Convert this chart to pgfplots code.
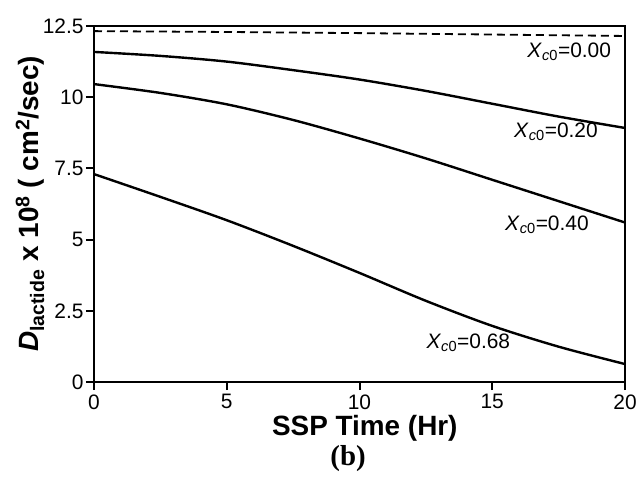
\documentclass[border=0pt]{standalone}
\usepackage{pgfplots}
\pgfplotsset{compat=1.18}
\usepackage{fontspec}
\setmainfont{Liberation Sans}
\newfontfamily\timesfont{Liberation Serif}
\begin{document}
\begin{tikzpicture}[x=1bp,y=1bp]
\begin{axis}[
  scale only axis,
  width=531bp, height=356bp,
  xmin=0, xmax=20, ymin=0, ymax=12.5,
  xtick={0,5,10,15,20},
  ytick={0,2.5,5,7.5,10,12.5},
  yticklabels={0,2.5,5,7.5,10,12.5},
  axis line style={line width=2.6bp},
  tick style={line width=2bp, black},
  tick align=outside,
  major tick length=8bp,
  xtick pos=bottom, ytick pos=left,
  /pgf/number format/assume math mode=true,
  tick label style={font=\fontsize{21}{23}\selectfont},
  yticklabel style={xshift=1bp},
  xticklabel style={yshift=-1bp},
  xlabel={\bfseries SSP Time (Hr)},
  ylabel={\bfseries\textit{D}\textsubscript{lactide} x 10\textsuperscript{8} ( cm\textsuperscript{2}/sec)},
  xlabel style={font=\fontsize{28}{30}\selectfont, at={(axis description cs:0.51,0)}, anchor=center, yshift=-46bp},
  ylabel style={font=\fontsize{28}{30}\selectfont, at={(axis description cs:-0.1205,0.5)}, anchor=center},
  clip=false,
]
\addplot[black, line width=1.8bp, dash pattern=on 8bp off 5bp] coordinates {(0,12.32) (5,12.29) (10,12.25) (15,12.2) (20,12.15)};
\addplot[black, line width=2.4bp, smooth] coordinates {(0,11.59) (2.5,11.45) (5,11.25) (7.5,10.95) (10,10.62) (12.5,10.22) (15,9.77) (17.5,9.32) (20,8.92)};
\addplot[black, line width=2.4bp, smooth] coordinates {(0,10.46) (2.5,10.15) (5,9.75) (7.5,9.2) (10,8.55) (12.5,7.85) (15,7.1) (17.5,6.35) (20,5.6)};
\addplot[black, line width=2.4bp, smooth] coordinates {(0,7.3) (2.5,6.5) (5,5.68) (7.5,4.78) (10,3.83) (12.5,2.85) (15,1.97) (17.5,1.24) (20,0.63)};
\node[font=\fontsize{21}{23}\selectfont] at (axis cs:17.9,11.6) {\textit{X}\textsubscript{\textit{c}0}=0.00};
\node[font=\fontsize{21}{23}\selectfont] at (axis cs:17.4,8.78) {\textit{X}\textsubscript{\textit{c}0}=0.20};
\node[font=\fontsize{21}{23}\selectfont] at (axis cs:17.06,5.51) {\textit{X}\textsubscript{\textit{c}0}=0.40};
\node[font=\fontsize{21}{23}\selectfont] at (axis cs:14.1,1.37) {\textit{X}\textsubscript{\textit{c}0}=0.68};
\node[font=\timesfont\bfseries\fontsize{29}{31}\selectfont] at ([yshift=-77bp]axis cs:9.57,0) {(b)};
\end{axis}
\pgfresetboundingbox
\useasboundingbox (-94bp,-96bp) rectangle (545bp,382bp);
\end{tikzpicture}
\end{document}
